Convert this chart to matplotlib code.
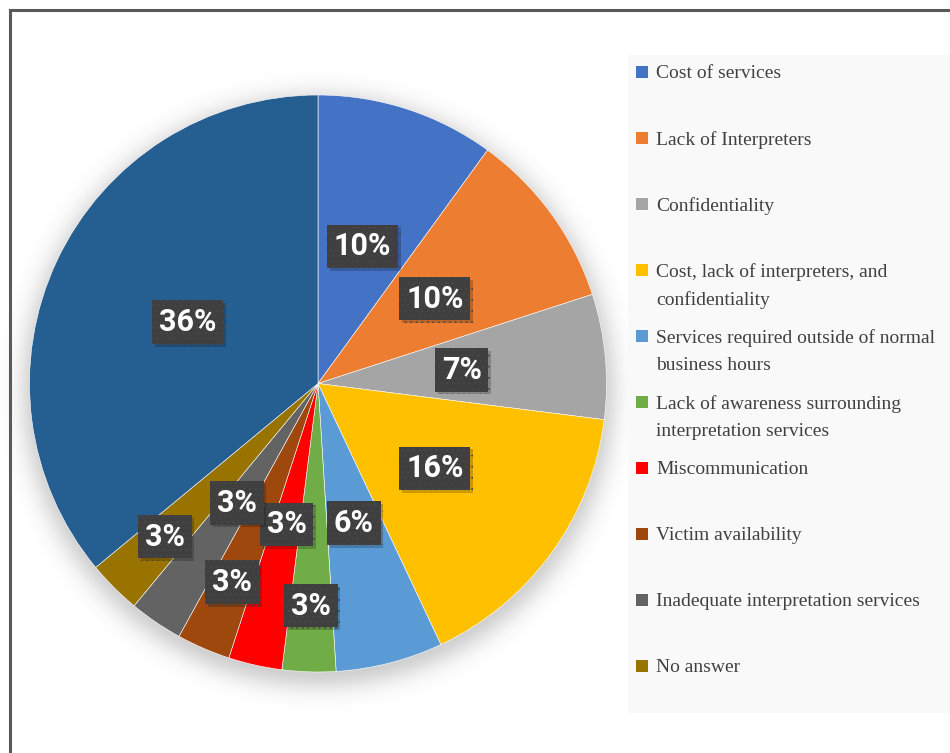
import matplotlib.pyplot as plt
import matplotlib.patheffects as pe
import numpy as np
from matplotlib.patches import Rectangle
from matplotlib.lines import Line2D

# share of responses per barrier (percent)
categories = [
    'Cost of services',
    'Lack of Interpreters',
    'Confidentiality',
    'Cost, lack of interpreters, and\nconfidentiality',
    'Services required outside of normal\nbusiness hours',
    'Lack of awareness surrounding\ninterpretation services',
    'Miscommunication',
    'Victim availability',
    'Inadequate interpretation services',
    'No answer',
]
shares = [10, 10, 7, 16, 6, 3, 3, 3, 3, 3]
unlisted_share = 36

colors = ['#4472C4', '#ED7D31', '#A5A5A5', '#FFC000', '#5B9BD5',
          '#70AD47', '#FF0000', '#9E480E', '#636363', '#997300']
unlisted_color = '#255E91'

plt.rcParams['hatch.linewidth'] = 0.6

W, H = 950, 753
fig = plt.figure(figsize=(W / 100, H / 100), dpi=100)
fig.patch.set_facecolor('white')

# pie axes: centre at (318, 383.5) px, radius 288.5 px
R = 288.5
lim = 1.3
side = 2 * lim * R
cx, cy = 318, 383.5
ax = fig.add_axes([(cx - side / 2) / W, 1 - (cy + side / 2) / H, side / W, side / H])
ax.axis('off')

# soft drop shadow under the pie
g = np.linspace(-lim, lim, 600)
xx, yy = np.meshgrid(g, g)
d = np.hypot(xx, yy + 0.025)
alpha = np.where(d < 0.97, 0.25, 0.25 * np.exp(-((d - 0.97) / 0.07) ** 2))
shadow = np.zeros((600, 600, 4))
shadow[..., :3] = 0.25
shadow[..., 3] = alpha
ax.imshow(shadow, extent=[-lim, lim, -lim, lim], origin='lower', zorder=0,
          interpolation='bilinear')

values = shares + [unlisted_share]
wedges, texts, autotexts = ax.pie(
    values, colors=colors + [unlisted_color], startangle=90, counterclock=False,
    radius=1, autopct='%.0f%%', pctdistance=0.5,
    wedgeprops=dict(edgecolor='white', linewidth=0.4),
    textprops=dict(color='white', fontsize=22, fontweight='bold',
                   family='Roboto'))
for w in wedges:
    w.set_zorder(2)

# small slices get their labels pushed further out
outer = {5: 0.77, 7: 0.75, 9: 0.75}
for i, t in enumerate(autotexts):
    w = wedges[i]
    if i in outer:
        ang = np.deg2rad((w.theta1 + w.theta2) / 2)
        t.set_position((outer[i] * np.cos(ang), outer[i] * np.sin(ang)))
    t.set_zorder(5)
    t.set_bbox(dict(boxstyle='square,pad=0.22', facecolor='#3f3f3f',
                    edgecolor='#494949', linewidth=0, hatch='...'))
    t.get_bbox_patch().set_path_effects(
        [pe.SimplePatchShadow(offset=(2, -2), shadow_rgbFace='black', alpha=0.2),
         pe.Normal()])

ax.set_xlim(-lim, lim)
ax.set_ylim(-lim, lim)
ax.set_aspect('equal')

# legend panel
fig.patches.append(Rectangle((628 / W, 1 - 713 / H), (W - 628) / W, (713 - 55) / H,
                             transform=fig.transFigure, facecolor='#f9f9f9',
                             edgecolor='none', zorder=0))
y0, step, sq = 72, 66, 12
for i, (name, col) in enumerate(zip(categories, colors)):
    y = y0 + i * step
    fig.patches.append(Rectangle((636 / W, 1 - (y + sq / 2) / H), sq / W, sq / H,
                                 transform=fig.transFigure, facecolor=col,
                                 edgecolor='none', zorder=2))
    fig.text(656 / W, 1 - (y - 7) / H, name, fontsize=14, family='Liberation Serif',
             color='#404040', va='top', ha='left', linespacing=1.75)

# outer frame
fig.add_artist(Line2D([10 / W, 10 / W], [0, 1 - 10 / H], transform=fig.transFigure,
                      color='#5a5a5a', linewidth=2.2))
fig.add_artist(Line2D([10 / W, 1], [1 - 10 / H, 1 - 10 / H], transform=fig.transFigure,
                      color='#5a5a5a', linewidth=2.2))

fig.savefig('out.png', dpi=100)
